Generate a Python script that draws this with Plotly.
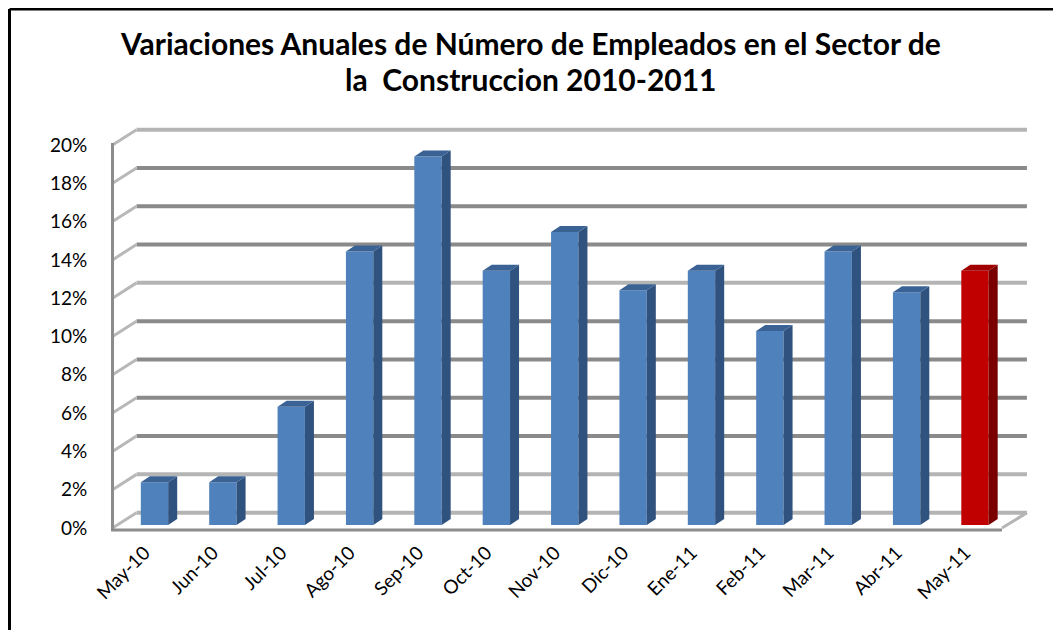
import plotly.graph_objects as go

# ---- data ----
categories = ["May-10", "Jun-10", "Jul-10", "Ago-10", "Sep-10", "Oct-10", "Nov-10",
              "Dic-10", "Ene-11", "Feb-11", "Mar-11", "Abr-11", "May-11"]
values = [2.2, 2.2, 6.1, 14.1, 19.0, 13.1, 15.1, 12.1, 13.1, 10.0, 14.1, 12.0, 13.1]
y_ticks = [0, 2, 4, 6, 8, 10, 12, 14, 16, 18, 20]
y_tick_labels = [f"{t}%" for t in y_ticks]
title_lines = ["Variaciones Anuales de Número de Empleados en el Sector de",
               "la  Construccion 2010-2011"]

# ---- style / geometry ----
FONT = "Lato, 'Open Sans', sans-serif"
BLUE, BLUE_SIDE, BLUE_TOP = "#4f81bd", "#30527f", "#3b6294"
RED, RED_SIDE, RED_TOP = "#c00000", "#7a0000", "#a00000"
BW, DX, DY = 0.40, 0.132, 0.31          # bar width, bar depth (x, y)
WALL_DX, WALL_DY = 0.351, 0.8           # back wall offset
X_FRONT, X_BACK_R, X_FRONT_R = -0.614, 12.76, 12.395
n = len(categories)

fig = go.Figure()

# back wall gridlines
dark_x, dark_y, light_x, light_y = [], [], [], []
for t in y_ticks:
    xs = [X_FRONT + WALL_DX, X_BACK_R, None]
    ys = [t + WALL_DY, t + WALL_DY, None]
    if t in (0, 2, 12, 20):
        light_x += xs; light_y += ys
    else:
        dark_x += xs; dark_y += ys
fig.add_trace(go.Scatter(x=light_x, y=light_y, mode="lines",
                         line=dict(color="#b4b4b4", width=4), hoverinfo="skip"))
fig.add_trace(go.Scatter(x=dark_x, y=dark_y, mode="lines",
                         line=dict(color="#8a8a8a", width=4), hoverinfo="skip"))

# left wall diagonals
dx_, dy_ = [], []
for t in y_ticks:
    dx_ += [X_FRONT, X_FRONT + WALL_DX, None]
    dy_ += [t, t + WALL_DY, None]
fig.add_trace(go.Scatter(x=dx_, y=dy_, mode="lines",
                         line=dict(color="#b8b8b8", width=3), hoverinfo="skip"))
# floor right diagonal
fig.add_trace(go.Scatter(x=[X_FRONT_R, X_BACK_R], y=[0, WALL_DY], mode="lines",
                         line=dict(color="#b4b4b4", width=3), hoverinfo="skip"))
# front axis lines
fig.add_trace(go.Scatter(x=[X_FRONT, X_FRONT, X_FRONT_R], y=[20.1, -0.1, -0.1], mode="lines",
                         line=dict(color="#8c8c8c", width=3), hoverinfo="skip"))

# bars (front faces)
colors = [BLUE] * (n - 1) + [RED]
fig.add_trace(go.Bar(x=list(range(n)), y=values, width=BW, marker_color=colors,
                     marker_line_width=0, xaxis="x", yaxis="y2", hoverinfo="skip"))

# side and top faces built from the values
def faces(idx, side_col, top_col):
    sx, sy, tx, ty = [], [], [], []
    for i in idx:
        v = values[i]
        r = i + BW / 2
        l = i - BW / 2
        sx += [r, r, r + DX, r + DX, r, None]
        sy += [0, v, v + DY, DY, 0, None]
        tx += [l, l + DX, r + DX, r, l, None]
        ty += [v, v + DY, v + DY, v, v, None]
    fig.add_trace(go.Scatter(x=sx, y=sy, fill="toself", fillcolor=side_col, mode="lines",
                             line=dict(width=0, color=side_col), xaxis="x", yaxis="y2",
                             hoverinfo="skip"))
    fig.add_trace(go.Scatter(x=tx, y=ty, fill="toself", fillcolor=top_col, mode="lines",
                             line=dict(width=0, color=top_col), xaxis="x", yaxis="y2",
                             hoverinfo="skip"))

faces(range(n - 1), BLUE_SIDE, BLUE_TOP)
faces([n - 1], RED_SIDE, RED_TOP)

# title
for k, line in enumerate(title_lines):
    fig.add_annotation(text=f"<b>{line}</b>", x=0.458, xref="paper",
                       y=(540 - (43 + 36 * k)) / 420, yref="paper",
                       showarrow=False, xanchor="center", yanchor="middle",
                       font=dict(family=FONT, size=30, color="black"))

# chart border (left and top visible)
fig.add_shape(type="line", xref="paper", yref="paper",
              x0=(9.5 - 100) / 940, x1=(1075 - 100) / 940,
              y0=(540 - 9) / 420, y1=(540 - 9) / 420,
              line=dict(color="black", width=3))
fig.add_shape(type="line", xref="paper", yref="paper",
              x0=(9.5 - 100) / 940, x1=(9.5 - 100) / 940,
              y0=(540 - 9) / 420, y1=(540 - 640) / 420,
              line=dict(color="black", width=3))

fig.update_layout(
    width=1061, height=630,
    margin=dict(l=92, r=29, t=112, b=98),
    paper_bgcolor="white", plot_bgcolor="white",
    showlegend=False,
    xaxis=dict(range=[-0.797, 12.951], tickmode="array", tickvals=list(range(n)),
               ticktext=categories, tickangle=-45, showgrid=False, zeroline=False,
               showline=False, ticks="", ticklabelstandoff=-3, ticklabelshift=-10,
               tickfont=dict(family=FONT, size=19, color="black")),
    yaxis=dict(range=[-0.627, 21.305], tickmode="array", tickvals=y_ticks,
               ticktext=y_tick_labels, showgrid=False, zeroline=False, showline=False,
               ticks="outside", ticklen=8, tickcolor="rgba(0,0,0,0)",
               tickfont=dict(family=FONT, size=19, color="black")),
    yaxis2=dict(range=[-0.773, 20.876], overlaying="y", visible=False),
)

fig.write_html("out.html")
